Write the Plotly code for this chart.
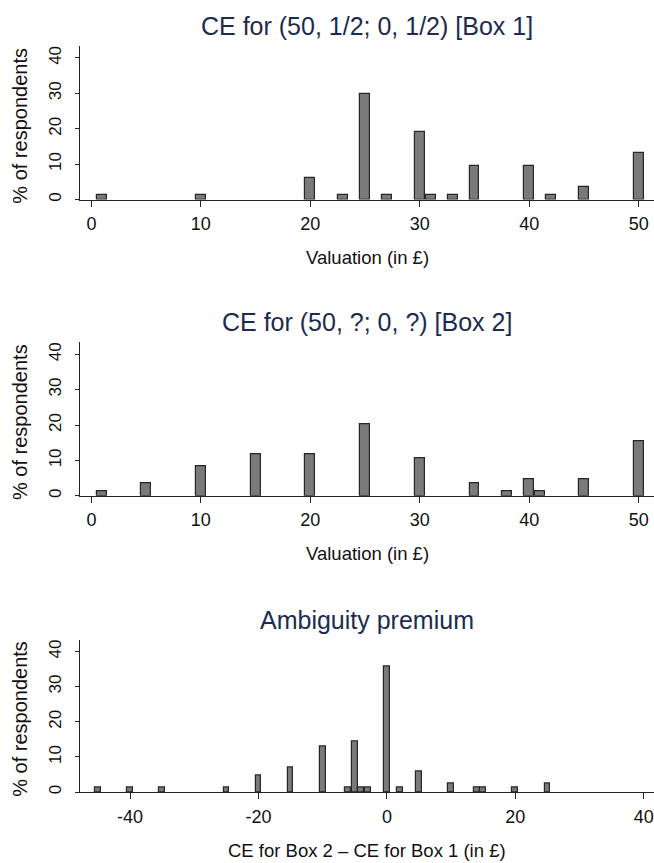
import plotly.graph_objects as go

# ---- data (percent of respondents) ----
box1_vals = [1, 10, 20, 23, 25, 27, 30, 31, 33, 35, 40, 42, 45, 50]
box1_pct = [1.2, 1.2, 6.0, 1.2, 29.8, 1.2, 19.0, 1.2, 1.2, 9.5, 9.5, 1.2, 3.6, 13.1]

box2_vals = [1, 5, 10, 15, 20, 25, 30, 35, 38, 40, 41, 45, 50]
box2_pct = [1.2, 3.6, 8.3, 11.9, 11.9, 20.2, 10.7, 3.6, 1.2, 4.8, 1.2, 4.8, 15.5]

prem_vals = [-45, -40, -35, -25, -20, -15, -10, -6, -5, -4, -3, 0, 2, 5, 10, 14, 15, 20, 25]
prem_pct = [1.2, 1.2, 1.2, 1.2, 4.8, 7.1, 13.1, 1.2, 14.3, 1.2, 1.2, 35.7, 1.2, 6.0, 2.4, 1.2, 1.2, 1.2, 2.4]

titles = ["CE for (50, 1/2; 0, 1/2) [Box 1]", "CE for (50, ?; 0, ?) [Box 2]", "Ambiguity premium"]
xtitles = ["Valuation (in £)", "Valuation (in £)", "CE for Box 2 \u2013 CE for Box 1 (in £)"]
ytitle = "% of respondents"
xticks_val = [0, 10, 20, 30, 40, 50]
xticks_val_text = ["0", "10", "20", "30", "40", "50"]
xticks_prem = [-40, -20, 0, 20, 40]
xticks_prem_text = ["-40", "-20", "0", "20", "40"]
yticks = [0, 10, 20, 30, 40]
yticks_text = ["0", "10", "20", "30", "40"]

W, H = 654, 863
FONT = "Liberation Sans, Arial, Helvetica, sans-serif"
TITLE_COLOR = "#1c2b4f"
AX_COLOR = "#222222"

panels = [
    (box1_vals, box1_pct, [-1.04, 51.4], xticks_val, xticks_val_text, (46, 200)),
    (box2_vals, box2_pct, [-1.04, 51.4], xticks_val, xticks_val_text, (343, 497)),
    (prem_vals, prem_pct, [-47.8, 41.6], xticks_prem, xticks_prem_text, (641, 794)),
]

fig = go.Figure()
annotations = []
x0 = 80 / W
xc = (x0 + 1.0) / 2

for i, (xv, yv, xr, xt, xtt, (top, bot)) in enumerate(panels):
    n = "" if i == 0 else str(i + 1)
    fig.add_trace(go.Bar(
        x=xv, y=yv, width=0.9,
        marker=dict(color="#7a7a7a", line=dict(color="#262626", width=1.2)),
        xaxis="x" + n, yaxis="y" + n, showlegend=False,
    ))
    dom = [1 - bot / H, 1 - top / H]
    fig.update_layout(**{
        "xaxis" + n: dict(
            domain=[x0, 1.0], range=xr, tickmode="array", tickvals=xt, ticktext=xtt,
            showline=True, linecolor=AX_COLOR, linewidth=1,
            ticks="outside", ticklen=6, tickcolor=AX_COLOR, tickwidth=1,
            showgrid=False, zeroline=False, anchor="y" + n,
            ticklabelstandoff=2,
            tickfont=dict(family=FONT, size=18, color="#111111"),
            fixedrange=True,
        ),
        "yaxis" + n: dict(
            domain=dom, range=[0, 43.4], tickmode="array", tickvals=yticks, ticktext=yticks_text,
            showline=True, linecolor=AX_COLOR, linewidth=1,
            ticks="outside", ticklen=4, tickcolor=AX_COLOR, tickwidth=1,
            showgrid=False, zeroline=False, anchor="x" + n,
            tickangle=-90, ticklabelstandoff=7,
            tickfont=dict(family=FONT, size=17, color="#111111"),
            fixedrange=True,
        ),
    })
    # panel title
    annotations.append(dict(
        text=titles[i], xref="paper", yref="paper", x=xc, y=1 - (top - 20) / H,
        xanchor="center", yanchor="middle", showarrow=False,
        font=dict(family=FONT, size=25, color=TITLE_COLOR),
    ))
    # x-axis title
    annotations.append(dict(
        text=xtitles[i], xref="paper", yref="paper", x=xc, y=1 - (bot + 58) / H,
        xanchor="center", yanchor="middle", showarrow=False,
        font=dict(family=FONT, size=18.5, color="#111111"),
    ))
    # y-axis title
    annotations.append(dict(
        text=ytitle, xref="paper", yref="paper", x=20 / W, y=1 - ((top + bot) / 2 + 3) / H,
        xanchor="center", yanchor="middle", showarrow=False, textangle=-90,
        font=dict(family=FONT, size=20, color="#111111"),
    ))

fig.update_layout(
    width=W, height=H,
    margin=dict(l=0, r=0, t=0, b=0),
    paper_bgcolor="white", plot_bgcolor="white",
    annotations=annotations, bargap=0,
    font=dict(family=FONT),
)

fig.write_html("out.html")
